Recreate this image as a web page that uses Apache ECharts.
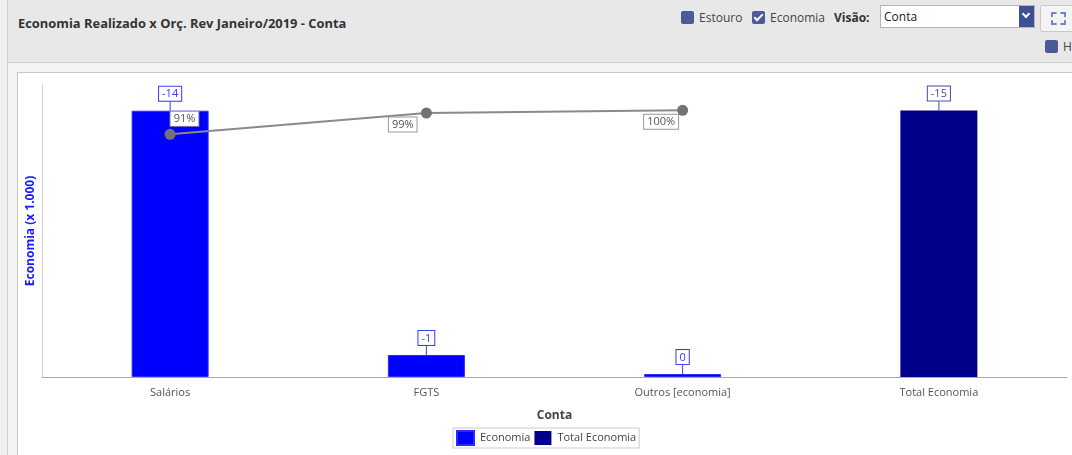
<!DOCTYPE html>
<html>
<head>
<meta charset="utf-8">
<script src="https://cdn.jsdelivr.net/npm/echarts@6/dist/echarts.min.js"></script>
<style>
  html, body { margin: 0; padding: 0; width: 1072px; height: 455px; overflow: hidden; background: #f0f0f0; font-family: "Open Sans", sans-serif; }
  .header { position: absolute; left: 7px; top: 0; width: 1065px; height: 62px; background: #e8e8e8; border-left: 1px solid #cfcfcf; border-bottom: 1px solid #d2d2d2; }
  .title { position: absolute; left: 10px; top: 14px; font-size: 12.9px; font-weight: bold; color: #333; }
  .band { position: absolute; left: 7px; top: 63px; width: 1065px; height: 392px; background: #f3f3f3; border-left: 1px solid #cfcfcf; }
  .panel { position: absolute; left: 17px; top: 72px; width: 1055px; height: 383px; background: #fff; border-left: 1px solid #c8c8c8; border-top: 1px solid #c8c8c8; }
  .cb { position: absolute; width: 13px; height: 13px; background: #4d5a98; border-radius: 2px; }
  .cb.on::after { content: ""; position: absolute; left: 4px; top: 1px; width: 3px; height: 7px; border: solid #fff; border-width: 0 2px 2px 0; transform: rotate(45deg); }
  .lbl { position: absolute; font-size: 12px; color: #444; }
  .sel { position: absolute; left: 880px; top: 5px; width: 153px; height: 21px; background: #fff; border: 1px solid #b5b5b5; }
  .sel span { position: absolute; left: 3px; top: 2px; font-size: 12px; color: #222; }
  .sel .btn { position: absolute; right: 0; top: 0; width: 15px; height: 21px; background: #3f4f95; }
  .sel .btn::after { content: ""; position: absolute; left: 4px; top: 5px; width: 4px; height: 4px; border: solid #fff; border-width: 0 2px 2px 0; transform: rotate(45deg); }
  .iconbtn { position: absolute; left: 1040px; top: 5px; width: 40px; height: 25px; background: #f4f4f4; border: 1px solid #c9c9c9; border-radius: 2px; }
  .iconbtn::after { content: ""; position: absolute; left: 10px; top: 6px; width: 11px; height: 9px; border: 2px dashed #6f86d0; }
  #chart { position: absolute; left: 0; top: 0; width: 1072px; height: 455px; }
</style>
</head>
<body>
<div class="header">
  <div class="title">Economia Realizado x Orç. Rev Janeiro/2019 - Conta</div>
</div>
<div class="band"></div>
<div class="panel"></div>
<div class="cb" style="left:681px;top:11px"></div>
<div class="lbl" style="left:699px;top:9px">Estouro</div>
<div class="cb on" style="left:752px;top:11px"></div>
<div class="lbl" style="left:770px;top:9px">Economia</div>
<div class="lbl" style="left:834px;top:9px;font-weight:bold;color:#333">Visão:</div>
<div class="sel"><span>Conta</span><div class="btn"></div></div>
<div class="iconbtn"></div>
<div class="cb" style="left:1045px;top:40px"></div>
<div class="lbl" style="left:1063px;top:38px">H</div>
<div id="chart"></div>
<script>
// categorias e valores (x 1.000)
const categories = ["Salários", "FGTS", "Outros [economia]", "Total Economia"];
const economia = [-14.5, -1.2, -0.16, "-"];
const totalEconomia = ["-", "-", "-", -14.51];
const percentual = [91, 99, 100, "-"];

const pctLabelPos = [[6, -17], [-32, 10], [-33, 10]];

const chart = echarts.init(document.getElementById("chart"));

const barLabel = color => ({
  show: true,
  position: "top",
  distance: 0,
  formatter: p => `${Math.round(p.value)}`,
  color: color,
  fontSize: 11,
  fontFamily: "Open Sans",
  backgroundColor: "#fff",
  borderColor: color,
  borderWidth: 1,
  padding: [2, 3, 1, 3]
});

chart.setOption({
  animation: false,
  textStyle: { fontFamily: "Open Sans" },
  grid: { left: 42, right: 5, top: 85, bottom: 78 },
  legend: {
    bottom: 7,
    left: 453,
    itemWidth: 17,
    itemHeight: 14,
    itemGap: 4,
    padding: [2, 3],
    borderColor: "#cccccc",
    borderWidth: 1,
    textStyle: { fontSize: 11, color: "#444", padding: [0, 0, 0, 1] },
    data: [
      { name: "Economia", icon: "rect" },
      { name: "Total Economia", icon: "rect" }
    ]
  },
  xAxis: {
    type: "category",
    data: categories,
    name: "Conta",
    nameLocation: "middle",
    nameGap: 33,
    nameTextStyle: { fontWeight: "bold", fontSize: 12, color: "#444" },
    axisLine: { lineStyle: { color: "#aaaaaa" } },
    axisTick: { alignWithLabel: true, length: 5, lineStyle: { color: "#aaaaaa" } },
    axisLabel: { color: "#555", fontSize: 11, margin: 10 }
  },
  yAxis: [
    {
      type: "value",
      min: -15.9,
      max: 0,
      inverse: true,
      name: "Economia (x 1.000)",
      nameLocation: "middle",
      nameRotate: 90,
      nameGap: 5,
      nameTextStyle: { fontWeight: "bold", fontSize: 12, color: "#1a1aff" },
      axisLine: { show: true, lineStyle: { color: "#d0d0d0" } },
      axisTick: { show: false },
      axisLabel: { show: false },
      splitLine: { show: false }
    },
    {
      type: "value",
      min: 0,
      max: 109.5,
      show: false,
      splitLine: { show: false }
    }
  ],
  series: [
    {
      name: "Economia",
      type: "bar",
      stack: "conta",
      barWidth: 77,
      data: economia,
      itemStyle: { color: "#0000ff", borderColor: "#2a2aff", borderWidth: 1 },
      label: barLabel("#3a3aff"),
      labelLayout: { dy: -10 },
      labelLine: { show: true, lineStyle: { color: "#3a3aff", width: 1 } }
    },
    {
      name: "Total Economia",
      type: "bar",
      stack: "conta",
      barWidth: 77,
      data: totalEconomia,
      itemStyle: { color: "#00008b" },
      label: barLabel("#4a4aa8"),
      labelLayout: { dy: -10 },
      labelLine: { show: true, lineStyle: { color: "#4a4aa8", width: 1 } }
    },
    {
      name: "Percentual",
      type: "line",
      yAxisIndex: 1,
      data: percentual.map((v, i) => ({
        value: v,
        label: { position: pctLabelPos[i] || "top" }
      })),
      symbol: "circle",
      symbolSize: 11,
      itemStyle: { color: "#737373" },
      lineStyle: { color: "#8a8a8a", width: 2 },
      label: {
        show: true,
        formatter: p => `${p.value}%`,
        color: "#555",
        fontSize: 11,
        backgroundColor: "#fff",
        borderColor: "#999",
        borderWidth: 1,
        padding: [2, 3, 1, 3]
      }
    }
  ]
});
</script>
</body>
</html>
